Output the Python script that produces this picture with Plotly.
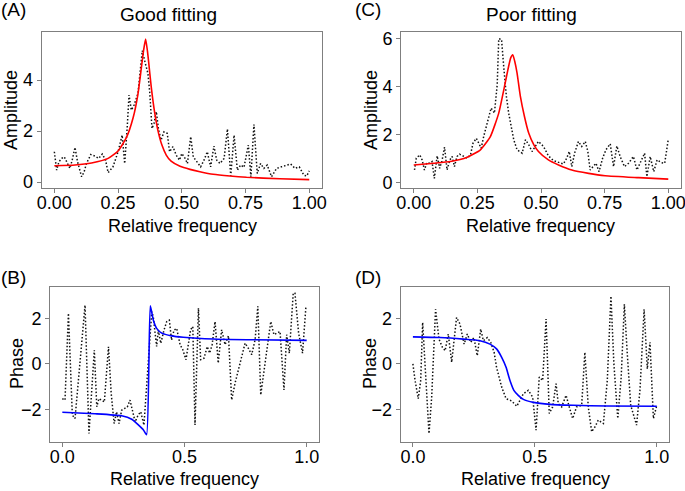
import plotly.graph_objects as go

W, H = 685, 491

# ---------------- Panel A (Good fitting, amplitude) ----------------
a_data_x = [0.000, 0.009, 0.018, 0.029, 0.039, 0.049, 0.061, 0.070, 0.081, 0.091, 0.107, 0.117, 0.126,
            0.143, 0.159, 0.174, 0.188, 0.201, 0.211, 0.230, 0.250, 0.266, 0.276, 0.286, 0.293, 0.302,
            0.313, 0.328, 0.339, 0.345, 0.357, 0.367, 0.374, 0.383, 0.391, 0.400, 0.409, 0.419, 0.430,
            0.443, 0.452, 0.465, 0.478, 0.491, 0.500, 0.513, 0.522, 0.535, 0.545, 0.558, 0.574, 0.587,
            0.600, 0.613, 0.626, 0.637, 0.650, 0.666, 0.679, 0.692, 0.705, 0.718, 0.731, 0.744, 0.761,
            0.771, 0.783, 0.796, 0.809, 0.822, 0.835, 0.852, 0.872, 0.891, 0.909, 0.927, 0.944, 0.961,
            0.979, 0.990, 1.000]
a_data_y = [1.19, 0.47, 0.80, 0.93, 0.99, 0.80, 0.54, 0.86, 1.36, 0.80, 0.21, 0.41, 0.73,
            1.08, 1.02, 0.93, 1.10, 0.86, 0.37, 0.60, 1.19, 1.84, 0.73, 2.17, 3.41, 2.82,
            3.02, 3.48, 4.52, 5.15, 4.65, 4.26, 3.54, 2.10, 2.30, 2.76, 2.04, 1.65, 1.97,
            1.91, 1.19, 1.39, 1.06, 0.86, 1.12, 0.93, 0.73, 1.78, 0.99, 0.80, 0.60, 0.86,
            1.19, 0.60, 1.41, 0.86, 0.73, 0.93, 2.08, 0.25, 1.84, 0.47, 0.67, 0.58, 1.45,
            0.21, 2.26, 0.34, 0.73, 0.54, 0.67, 0.21, 0.54, 0.60, 0.67, 0.71, 0.54, 0.60,
            0.27, 0.24, 0.44]
a_fit_x = [0.000, 0.081, 0.146, 0.211, 0.250, 0.283, 0.309, 0.328, 0.341, 0.350, 0.358, 0.365, 0.370,
           0.380, 0.393, 0.406, 0.422, 0.439, 0.458, 0.493, 0.532, 0.571, 0.623, 0.689, 0.754, 0.884, 1.000]
a_fit_y = [0.64, 0.67, 0.75, 0.93, 1.22, 1.75, 2.52, 3.45, 4.45, 5.15, 5.60, 5.15, 4.70,
           3.74, 2.76, 2.04, 1.45, 1.06, 0.82, 0.62, 0.50, 0.41, 0.31, 0.24, 0.19, 0.13, 0.10]

# ---------------- Panel C (Poor fitting, amplitude) ----------------
c_data_x = [0.003, 0.010, 0.024, 0.033, 0.042, 0.052, 0.063, 0.072, 0.081, 0.092, 0.102, 0.111, 0.121,
            0.131, 0.142, 0.151, 0.160, 0.170, 0.180, 0.197, 0.210, 0.223, 0.233, 0.246, 0.255, 0.265,
            0.275, 0.291, 0.304, 0.317, 0.328, 0.334, 0.345, 0.354, 0.364, 0.373, 0.383, 0.393, 0.406,
            0.426, 0.439, 0.452, 0.465, 0.478, 0.490, 0.510, 0.529, 0.549, 0.569, 0.588, 0.601, 0.611,
            0.621, 0.632, 0.647, 0.660, 0.674, 0.684, 0.693, 0.706, 0.716, 0.728, 0.742, 0.755, 0.772,
            0.785, 0.798, 0.811, 0.828, 0.844, 0.863, 0.877, 0.890, 0.907, 0.916, 0.929, 0.943, 0.956,
            0.972, 0.986, 1.000]
c_data_y = [0.53, 1.02, 1.16, 0.95, 0.53, 0.84, 0.81, 0.88, 0.18, 1.12, 0.60, 0.91, 1.48,
            0.53, 0.95, 1.09, 0.67, 1.09, 1.19, 1.09, 1.02, 1.16, 1.65, 1.85, 1.67, 1.44,
            1.93, 2.55, 3.11, 2.90, 4.09, 6.00, 5.97, 4.78, 3.60, 2.90, 2.34, 1.79, 1.37,
            1.23, 1.79, 1.58, 1.30, 1.51, 1.72, 1.51, 1.12, 0.92, 0.84, 0.78, 1.02, 1.30,
            0.67, 1.23, 1.72, 1.51, 1.72, 1.30, 0.53, 0.67, 0.81, 0.46, 1.02, 1.37, 1.62,
            0.67, 1.53, 1.09, 0.67, 0.81, 1.09, 0.53, 0.81, 1.23, 0.25, 1.09, 0.46, 0.95,
            0.84, 0.81, 1.81]
c_fit_x = [0.000, 0.079, 0.144, 0.210, 0.262, 0.301, 0.334, 0.354, 0.370, 0.381, 0.389, 0.397, 0.406,
           0.419, 0.435, 0.452, 0.472, 0.490, 0.529, 0.569, 0.621, 0.687, 0.752, 0.883, 1.000]
c_fit_y = [0.74, 0.81, 0.88, 1.06, 1.37, 1.92, 2.90, 3.88, 4.71, 5.20, 5.33, 5.05, 4.57,
           3.60, 2.76, 2.06, 1.58, 1.30, 0.95, 0.74, 0.53, 0.39, 0.29, 0.21, 0.15]

# ---------------- Panel B (Good fitting, phase) ----------------
b_data_x = [0.000, 0.011, 0.025, 0.041, 0.052, 0.093, 0.109, 0.131, 0.141, 0.150, 0.161, 0.172, 0.189,
            0.200, 0.212, 0.222, 0.232, 0.243, 0.254, 0.266, 0.277, 0.287, 0.298, 0.310, 0.321, 0.334,
            0.366, 0.372, 0.386, 0.393, 0.403, 0.416, 0.427, 0.438, 0.447, 0.457, 0.468, 0.482, 0.493,
            0.506, 0.515, 0.525, 0.534, 0.543, 0.557, 0.566, 0.580, 0.593, 0.603, 0.613, 0.625, 0.638,
            0.652, 0.666, 0.680, 0.693, 0.707, 0.720, 0.734, 0.748, 0.761, 0.775, 0.789, 0.800, 0.812,
            0.826, 0.840, 0.853, 0.866, 0.879, 0.891, 0.907, 0.918, 0.929, 0.945, 0.952, 0.967, 0.983,
            0.997]
b_data_y = [-1.53, -1.60, 2.22, -2.26, -2.41, 2.58, -3.07, 0.60, -1.89, -1.53, -1.60, -1.68, 0.75,
            -1.30, -2.63, -2.11, -2.63, -2.04, -1.97, -1.90, -1.60, -2.04, -2.56, -2.26, -2.11, -2.70,
            2.29, 2.09, 0.76, 1.48, 0.90, 1.48, 1.85, 1.92, 1.04, 1.48, 1.56, 0.84, 0.62,
            0.18, 0.80, 1.50, 1.64, -2.69, 2.45, 0.18, 0.25, 0.76, 0.47, 0.84, 1.86, 0.03,
            1.50, 0.84, 1.23, -1.59, -0.85, -0.25, 0.32, 0.91, 0.69, 0.40, 1.06, 2.53, -1.37,
            -0.34, 0.84, 1.86, 1.28, 1.35, 1.42, -1.15, 1.28, 0.47, 3.11, 3.11, 1.35, 0.47,
            2.53]
b_fit_x = [0.000, 0.134, 0.243, 0.284, 0.311, 0.332, 0.345, 0.360, 0.372, 0.386, 0.407, 0.447,
           0.495, 0.618, 0.755, 1.000]
b_fit_y = [-2.13, -2.20, -2.29, -2.44, -2.69, -2.91, -3.12, 2.55, 1.94, 1.56, 1.35, 1.23,
           1.17, 1.09, 1.06, 1.03]

# ---------------- Panel D (Poor fitting, phase) ----------------
d_data_x = [0.000, 0.009, 0.022, 0.032, 0.040, 0.054, 0.066, 0.077, 0.093, 0.107, 0.121, 0.132, 0.145,
            0.159, 0.168, 0.179, 0.193, 0.210, 0.223, 0.237, 0.250, 0.264, 0.278, 0.289, 0.305, 0.319,
            0.333, 0.343, 0.364, 0.382, 0.405, 0.426, 0.439, 0.453, 0.473, 0.491, 0.505, 0.518, 0.532,
            0.546, 0.559, 0.573, 0.587, 0.596, 0.610, 0.628, 0.641, 0.655, 0.671, 0.692, 0.705, 0.719,
            0.733, 0.747, 0.760, 0.781, 0.797, 0.812, 0.824, 0.840, 0.854, 0.867, 0.879, 0.893, 0.917,
            0.931, 0.948, 0.961, 0.972, 0.986, 1.000]
d_data_y = [0.00, -0.73, -1.53, -0.73, 1.82, -0.73, -3.06, -1.46, 2.40, 1.09, 0.73, 0.58, 1.31,
            0.07, 1.09, 2.04, 1.75, 0.87, 1.31, 0.95, 1.16, 0.36, 1.53, 1.02, 1.16, 0.95,
            0.51, -0.15, -1.02, -1.53, -1.63, -1.86, -1.60, -1.31, -1.16, -1.46, -2.91, -0.58, -0.73,
            1.97, -2.18, -1.89, -0.87, -1.75, -1.89, -1.38, -1.89, -2.40, -1.89, -1.82, 0.51, -1.89,
            -2.98, -2.76, -2.47, -2.62, -0.73, 2.98, 0.00, -2.40, -0.58, 2.62, 0.44, -1.82, -2.69,
            -1.16, 2.40, -0.22, 0.95, -2.40, -1.82]
d_fit_x = [0.000, 0.111, 0.207, 0.275, 0.316, 0.343, 0.364, 0.382, 0.398, 0.414, 0.432, 0.453,
           0.494, 0.562, 0.658, 0.795, 1.000]
d_fit_y = [1.19, 1.16, 1.09, 1.02, 0.87, 0.66, 0.29, -0.15, -0.73, -1.16, -1.38, -1.56,
           -1.69, -1.78, -1.82, -1.85, -1.86]

# tick labels
amp_x_ticks = [0, 0.25, 0.5, 0.75, 1.0]
amp_x_labels = ["0.00", "0.25", "0.50", "0.75", "1.00"]
a_y_ticks = [0, 2, 4]
c_y_ticks = [0, 2, 4, 6]
ph_x_ticks = [0, 0.5, 1.0]
ph_x_labels = ["0.0", "0.5", "1.0"]
ph_y_ticks = [-2, 0, 2]

FONT = "Liberation Sans, Arial, sans-serif"
TICKF = dict(family=FONT, size=18, color="black")


def px(x):
    return x / W


def py(y):
    return 1 - y / H


fig = go.Figure()

panels = [
    ("x", "y", a_data_x, a_data_y, a_fit_x, a_fit_y, "red"),
    ("x2", "y2", c_data_x, c_data_y, c_fit_x, c_fit_y, "red"),
    ("x3", "y3", b_data_x, b_data_y, b_fit_x, b_fit_y, "blue"),
    ("x4", "y4", d_data_x, d_data_y, d_fit_x, d_fit_y, "blue"),
]
for xa, ya, dx, dy, fx, fy, col in panels:
    fig.add_trace(go.Scatter(x=dx, y=dy, mode="lines", xaxis=xa, yaxis=ya,
                             line=dict(color="#111111", width=1.5, dash="1.5px,2px"),
                             showlegend=False, hoverinfo="skip"))
    fig.add_trace(go.Scatter(x=fx, y=fy, mode="lines", xaxis=xa, yaxis=ya,
                             line=dict(color=col, width=1.6, shape="spline", smoothing=0.5),
                             showlegend=False, hoverinfo="skip"))

axis_common = dict(showline=True, mirror=True, linecolor="#7f7f7f", linewidth=1,
                   ticks="outside", ticklen=4, tickcolor="#7f7f7f", showgrid=False,
                   zeroline=False, tickfont=TICKF, automargin=False,
                   ticklabeloverflow="allow")
xaxis_extra = dict(ticklabelstandoff=-5)

top_y = [py(187.5), py(32)]
bot_y = [py(441.5), py(287)]

fig.update_layout(
    width=W, height=H, margin=dict(l=0, r=0, t=0, b=0, autoexpand=False),
    paper_bgcolor="white", plot_bgcolor="white",
    xaxis=dict(domain=[px(41.6), px(322)], range=[-0.05, 1.05], anchor="y",
               tickvals=amp_x_ticks, ticktext=amp_x_labels, **axis_common, **xaxis_extra),
    yaxis=dict(domain=top_y, range=[-0.21, 5.88], anchor="x", tickvals=a_y_ticks, **axis_common),
    xaxis2=dict(domain=[px(401), px(681)], range=[-0.05, 1.05], anchor="y2",
                tickvals=amp_x_ticks, ticktext=amp_x_labels, **axis_common, **xaxis_extra),
    yaxis2=dict(domain=top_y, range=[-0.2, 6.28], anchor="x2", tickvals=c_y_ticks, **axis_common),
    xaxis3=dict(domain=[px(50.1), px(318.9)], range=[-0.05, 1.05], anchor="y3",
                tickvals=ph_x_ticks, ticktext=ph_x_labels, **axis_common, **xaxis_extra),
    yaxis3=dict(domain=bot_y, range=[-3.42, 3.38], anchor="x3", tickvals=ph_y_ticks, **axis_common),
    xaxis4=dict(domain=[px(400.7), px(669)], range=[-0.05, 1.05], anchor="y4",
                tickvals=ph_x_ticks, ticktext=ph_x_labels, **axis_common, **xaxis_extra),
    yaxis4=dict(domain=bot_y, range=[-3.41, 3.38], anchor="x4", tickvals=ph_y_ticks, **axis_common),
)


def label(text, x, y, size=18, angle=0):
    fig.add_annotation(text=text, x=px(x), y=py(y), xref="paper", yref="paper",
                       showarrow=False, textangle=angle, xanchor="center", yanchor="middle",
                       font=dict(family=FONT, size=size, color="black"))


label("(A)", 13, 10, size=19)
label("Good fitting", 168, 14, size=19)
label("(C)", 368, 10, size=19)
label("Poor fitting", 531, 14, size=19)
label("(B)", 13, 277, size=19)
label("(D)", 368, 277, size=19)
label("Amplitude", 11, 110, angle=-90)
label("Amplitude", 371, 110, angle=-90)
label("Phase", 17, 364, angle=-90)
label("Phase", 370, 364, angle=-90)
label("Relative frequency", 182, 226)
label("Relative frequency", 540, 226)
label("Relative frequency", 184, 479)
label("Relative frequency", 535, 479)

fig.write_html("out.html", post_script="document.body.style.margin='0';",
               config={"displayModeBar": False})
